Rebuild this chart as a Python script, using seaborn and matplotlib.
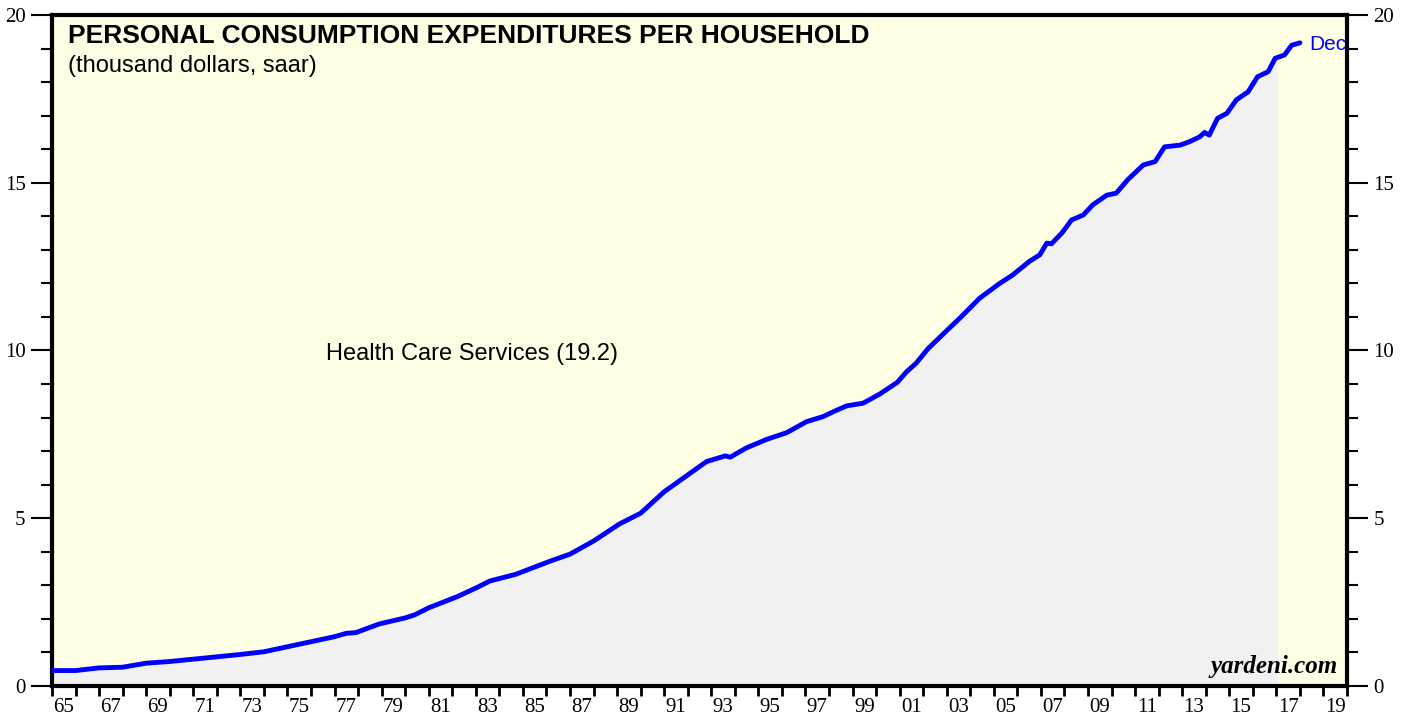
import matplotlib
matplotlib.use("Agg")
import matplotlib.pyplot as plt
import numpy as np
import pandas as pd
import seaborn as sns

# fractional years and values (thousand dollars)
years = [
    1965.0, 1966.0, 1967.0, 1968.0, 1969.0, 1970.0, 1971.0, 1972.0, 1973.0,
    1974.0, 1975.0, 1976.0, 1977.0, 1977.5, 1977.9, 1978.9, 1980.0, 1980.4,
    1981.0, 1982.2, 1983.0, 1983.6, 1984.7, 1986.15, 1987.0, 1988.0, 1989.1,
    1990.0, 1991.0, 1992.0, 1992.8, 1993.6, 1993.8, 1994.5, 1995.35, 1996.2,
    1997.05, 1997.75, 1998.2, 1998.75, 1999.45, 2000.15, 2000.9, 2001.3,
    2001.7, 2002.2, 2003.1, 2003.55, 2004.4, 2005.25, 2005.8, 2006.5, 2006.95,
    2007.25, 2007.45, 2007.9, 2008.3, 2008.8, 2009.2, 2009.8, 2010.2, 2010.7,
    2011.35, 2011.85, 2012.25, 2012.9, 2013.3, 2013.75, 2013.95, 2014.15,
    2014.5, 2014.9, 2015.3, 2015.8, 2016.2, 2016.65, 2016.95, 2017.35,
    2017.65, 2018.0,
]
values = [
    0.46, 0.46, 0.54, 0.56, 0.68, 0.73, 0.80, 0.87, 0.94,
    1.02, 1.17, 1.32, 1.47, 1.57, 1.59, 1.85, 2.03, 2.12,
    2.33, 2.66, 2.92, 3.13, 3.33, 3.72, 3.93, 4.32, 4.83,
    5.15, 5.79, 6.29, 6.69, 6.86, 6.82, 7.10, 7.35, 7.55,
    7.88, 8.03, 8.18, 8.35, 8.43, 8.70, 9.05, 9.37,
    9.62, 10.05, 10.66, 10.96, 11.56, 12.00, 12.25, 12.65, 12.85,
    13.20, 13.18, 13.51, 13.89, 14.04, 14.34, 14.63, 14.69, 15.10,
    15.53, 15.63, 16.07, 16.12, 16.22, 16.37, 16.50, 16.42,
    16.92, 17.07, 17.47, 17.71, 18.16, 18.31, 18.71, 18.81,
    19.10, 19.17,
]
shade_end = 2017.05  # grey area stops here

title = "PERSONAL CONSUMPTION EXPENDITURES PER HOUSEHOLD"
subtitle = "(thousand dollars, saar)"
series_label = "Health Care Services (19.2)"
x_label_years = list(range(1965, 2020, 2))

df = pd.DataFrame({"year": years, "value": values})

sns.set_style("ticks")
plt.rcParams["font.family"] = ["Liberation Sans", "DejaVu Sans"]
plt.rcParams["text.color"] = "black"
plt.rcParams["xtick.color"] = "black"
plt.rcParams["ytick.color"] = "black"

fig = plt.figure(figsize=(14.08, 7.19), dpi=100)
ax = fig.add_axes([52 / 1408, 1 - 686 / 719, 1295 / 1408, 671 / 719])
ax.set_facecolor("#fefee4")

shade = df[df["year"] <= shade_end]
ax.fill_between(
    list(shade["year"]) + [shade_end],
    list(shade["value"]) + [np.interp(shade_end, df["year"], df["value"])],
    0, color="#f1f1f1", lw=0, zorder=1,
)
sns.lineplot(data=df, x="year", y="value", color="#0000ff", lw=3.5, ax=ax, zorder=3)

ax.set_xlim(1965, 2020)
ax.set_ylim(0, 20)
ax.set_xlabel("")
ax.set_ylabel("")

# x: ticks on year boundaries, labels centred in odd years
ax.set_xticks(range(1965, 2021))
ax.set_xticklabels([])
ax.set_xticks([y + 0.5 for y in x_label_years], minor=True)
ax.set_xticklabels([f"{y % 100:02d}" for y in x_label_years], minor=True)
ax.tick_params(axis="x", which="major", direction="out", length=7, width=2, color="black")
ax.tick_params(axis="x", which="minor", length=0, pad=9, labelsize=15)

ax.set_yticks([0, 5, 10, 15, 20])
ax.set_yticks(range(0, 21), minor=True)
ax.tick_params(axis="y", which="major", direction="out", length=15, width=1.5,
               labelsize=15, left=True, right=True, labelleft=True, labelright=True, pad=4)
ax.tick_params(axis="y", which="minor", direction="out", length=8, width=1.5,
               left=True, right=True)
for lab in ax.get_xticklabels(minor=True) + ax.get_yticklabels():
    lab.set_fontfamily(["Liberation Serif", "DejaVu Serif"])

for side in ["left", "right", "top", "bottom"]:
    ax.spines[side].set_visible(True)
    ax.spines[side].set_linewidth(3)
    ax.spines[side].set_color("black")

ax.text(0.012, 0.986, title, transform=ax.transAxes, fontsize=19,
        fontweight="bold", va="top", ha="left")
ax.text(0.012, 0.940, subtitle, transform=ax.transAxes, fontsize=17,
        va="top", ha="left")
ax.text(1976.65, 9.9, series_label, fontsize=17, va="center", ha="left")
ax.text(df["year"].iloc[-1] + 0.4, df["value"].iloc[-1] - 0.05, "Dec", color="#0000ff",
        fontsize=15, va="center", ha="left")
ax.text(0.993, 0.012, "yardeni.com", transform=ax.transAxes, fontsize=18,
        fontweight="bold", fontstyle="italic", ha="right", va="bottom",
        family=["Liberation Serif", "DejaVu Serif"])

fig.savefig("out.png", dpi=100)
